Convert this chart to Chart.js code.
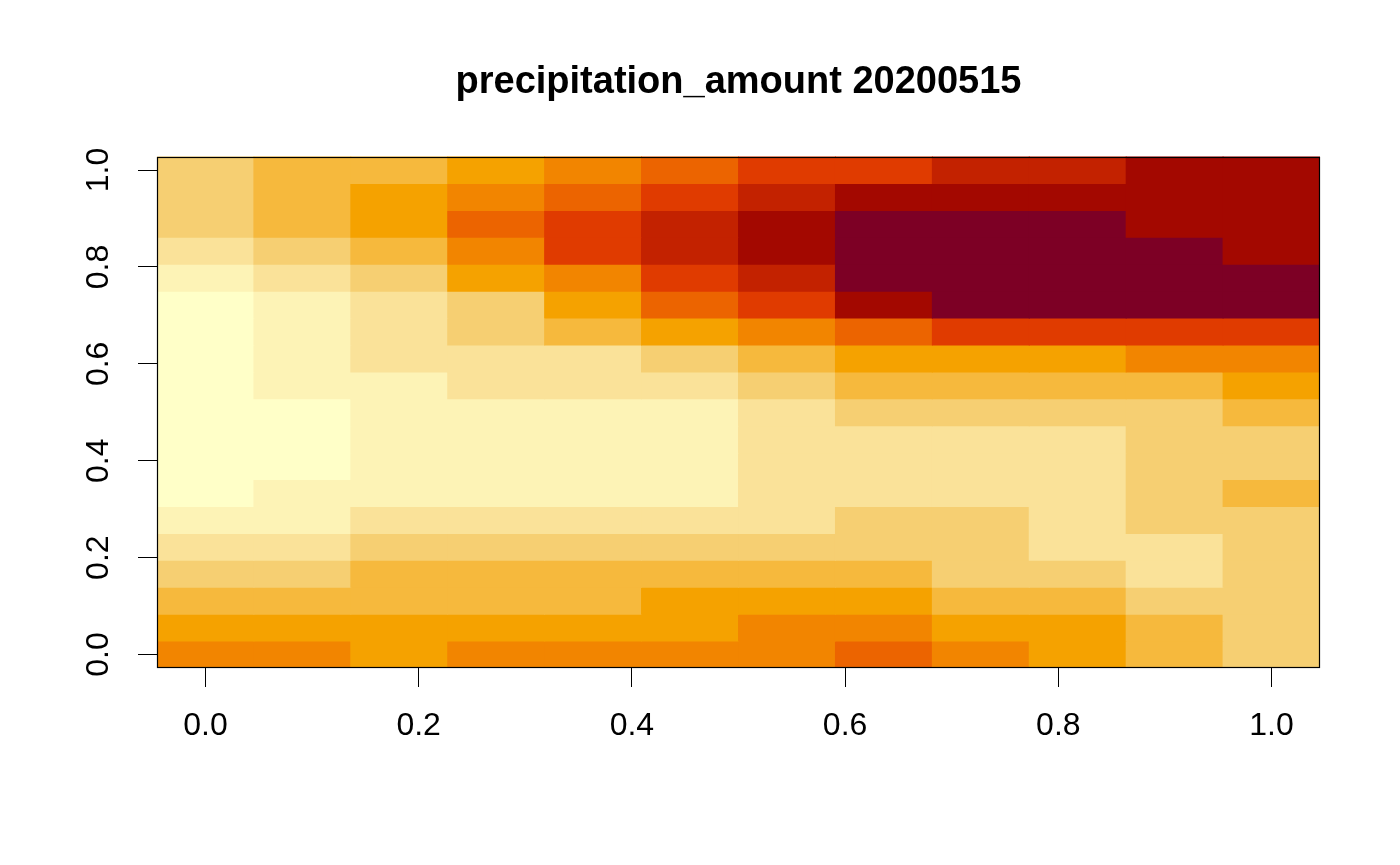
<!DOCTYPE html>
<html lang="en">
<head>
<meta charset="UTF-8">
<title>precipitation_amount 20200515</title>
<script src="https://cdn.jsdelivr.net/npm/chart.js"></script>
<style>
  html, body { margin: 0; padding: 0; background: #ffffff; }
  #wrap { width: 1400px; height: 865px; }
</style>
</head>
<body>
<div id="wrap"><canvas id="precipChart" width="1400" height="865"></canvas></div>
<script>
// cell centres (x left to right, y top to bottom)
const lon = [0, 0.0909, 0.1818, 0.2727, 0.3636, 0.4545, 0.5455, 0.6364, 0.7273, 0.8182, 0.9091, 1];
const lat = [1, 0.9444, 0.8889, 0.8333, 0.7778, 0.7222, 0.6667, 0.6111, 0.5556, 0.5,
             0.4444, 0.3889, 0.3333, 0.2778, 0.2222, 0.1667, 0.1111, 0.0556, 0];

// colour class of each cell, 0 = driest, 11 = wettest; one row per lat, top row first
const precip = [
  [3, 4, 4, 5, 6, 7, 8, 8, 9, 9, 10, 10],
  [3, 4, 5, 6, 7, 8, 9, 10, 10, 10, 10, 10],
  [3, 4, 5, 7, 8, 9, 10, 11, 11, 11, 10, 10],
  [2, 3, 4, 6, 8, 9, 10, 11, 11, 11, 11, 10],
  [1, 2, 3, 5, 6, 8, 9, 11, 11, 11, 11, 11],
  [0, 1, 2, 3, 5, 7, 8, 10, 11, 11, 11, 11],
  [0, 1, 2, 3, 4, 5, 6, 7, 8, 8, 8, 8],
  [0, 1, 2, 2, 2, 3, 4, 5, 5, 5, 6, 6],
  [0, 1, 1, 2, 2, 2, 3, 4, 4, 4, 4, 5],
  [0, 0, 1, 1, 1, 1, 2, 3, 3, 3, 3, 4],
  [0, 0, 1, 1, 1, 1, 2, 2, 2, 2, 3, 3],
  [0, 0, 1, 1, 1, 1, 2, 2, 2, 2, 3, 3],
  [0, 1, 1, 1, 1, 1, 2, 2, 2, 2, 3, 4],
  [1, 1, 2, 2, 2, 2, 2, 3, 3, 2, 3, 3],
  [2, 2, 3, 3, 3, 3, 3, 3, 3, 2, 2, 3],
  [3, 3, 4, 4, 4, 4, 4, 4, 3, 3, 2, 3],
  [4, 4, 4, 4, 4, 5, 5, 5, 4, 4, 3, 3],
  [5, 5, 5, 5, 5, 5, 6, 6, 5, 5, 4, 3],
  [6, 6, 5, 6, 6, 6, 6, 7, 6, 5, 4, 3]
];

const palette = ['#FFFFC8', '#FDF3B6', '#FAE299', '#F6CF72', '#F6B93D', '#F5A200',
                 '#F28500', '#EC6400', '#E03B00', '#C32200', '#A30800', '#7D0025'];

const tickValues = [0, 0.2, 0.4, 0.6, 0.8, 1.0];

const FONT = "'Liberation Sans', Arial, Helvetica, sans-serif";

const dx = (lon[1] - lon[0]) / 2;
const dy = (lat[0] - lat[1]) / 2;

// one floating-bar dataset per row of cells
const datasets = precip.map((row, r) => ({
  label: 'row ' + r,
  data: row.map((lvl, c) => ({ x: lon[c], y: [lat[r] - dy, lat[r] + dy] })),
  backgroundColor: row.map(lvl => palette[lvl]),
  borderWidth: 0,
  inflateAmount: 0.5,
  grouped: false,
  barPercentage: 1,
  categoryPercentage: 1
}));

// box round the plot region, like R's box()
const frame = {
  id: 'frame',
  afterDraw(chart) {
    const a = chart.chartArea;
    const ctx = chart.ctx;
    ctx.save();
    ctx.strokeStyle = '#000';
    ctx.lineWidth = 1.2;
    ctx.strokeRect(Math.round(a.left) + 0.5, Math.round(a.top) + 0.5,
                   Math.round(a.right - a.left) - 1, Math.round(a.bottom - a.top) - 1);
    ctx.restore();
  }
};

const setTicks = s => { s.ticks = tickValues.map(v => ({ value: v })); };

new Chart(document.getElementById('precipChart'), {
  type: 'bar',
  data: { datasets: datasets },
  plugins: [frame],
  options: {
    responsive: false,
    animation: false,
    layout: { padding: { left: 0, right: 80, top: 0, bottom: 0 } },
    plugins: {
      legend: { display: false },
      tooltip: { enabled: false },
      title: {
        display: true,
        text: 'precipitation_amount 20200515',
        fullSize: false,
        color: '#000',
        font: { family: FONT, size: 38, weight: 'bold' },
        padding: { top: 60, bottom: 51 }
      }
    },
    scales: {
      x: {
        type: 'linear',
        offset: false,
        min: lon[0] - dx,
        max: lon[lon.length - 1] + dx,
        afterBuildTicks: setTicks,
        afterFit: s => { s.height = 197; },
        border: { display: false },
        grid: { offset: false, drawOnChartArea: false, drawTicks: true, tickLength: 19, tickColor: '#000', lineWidth: 1 },
        ticks: {
          color: '#000',
          padding: 20,
          maxRotation: 0,
          font: { family: FONT, size: 32 },
          callback: v => Number(v).toFixed(1)
        }
      },
      y: {
        type: 'linear',
        min: lat[lat.length - 1] - dy,
        max: lat[0] + dy,
        afterBuildTicks: setTicks,
        afterFit: s => { s.width = 157; },
        border: { display: false },
        grid: { drawOnChartArea: false, drawTicks: true, tickLength: 19, tickColor: '#000', lineWidth: 1 },
        ticks: {
          color: '#000',
          padding: 17,
          minRotation: 90,
          maxRotation: 90,
          crossAlign: 'center',
          font: { family: FONT, size: 32 },
          callback: v => Number(v).toFixed(1)
        }
      }
    }
  }
});
</script>
</body>
</html>
